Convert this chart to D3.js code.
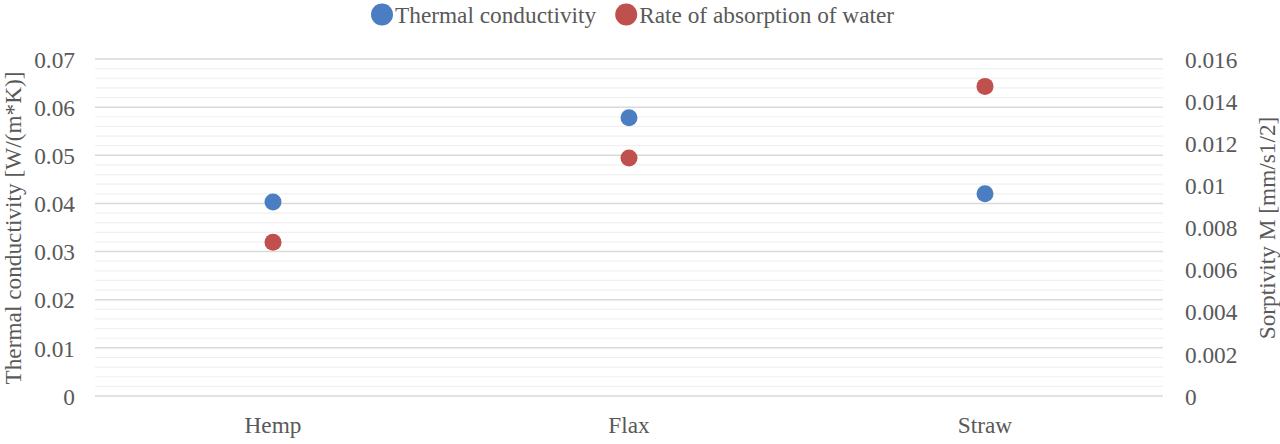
<!DOCTYPE html>
<html><head><meta charset="utf-8">
<script src="https://cdn.jsdelivr.net/npm/d3@7"></script>
<style>body{margin:0;background:#fff}svg{display:block}</style>
</head><body><svg id="c" width="1280" height="444"></svg>
<script>
const categories = ["Hemp", "Flax", "Straw"];
const thermalConductivity = [0.0403, 0.0578, 0.0420];
const absorptionRate = [0.0073, 0.0113, 0.0147];
const leftTicks = [0, 0.01, 0.02, 0.03, 0.04, 0.05, 0.06, 0.07];
const rightTicks = [0, 0.002, 0.004, 0.006, 0.008, 0.01, 0.012, 0.014, 0.016];
const seriesNames = ["Thermal conductivity", "Rate of absorption of water"];
const colors = ["#4A7DC1", "#C0504D"];

const FONT = "'Liberation Serif', 'Times New Roman', serif";
const FS = 23.3;
const TXT = "#595959";

const svg = d3.select("#c");
const m = {l: 95, r: 1163, t: 59, b: 396};
const x = d3.scaleBand().domain(categories).range([m.l, m.r]);
const yL = d3.scaleLinear().domain([0, 0.07]).range([m.b, m.t]);
const yR = d3.scaleLinear().domain([0, 0.016]).range([m.b, m.t]);

const minor = d3.range(0, 0.0701, 0.002).filter(v => Math.abs(v/0.01 - Math.round(v/0.01)) > 1e-6);
svg.append("g").selectAll("line").data(minor).join("line")
  .attr("x1", m.l).attr("x2", m.r).attr("y1", d => yL(d)).attr("y2", d => yL(d))
  .attr("stroke", "#f0f0f0").attr("stroke-width", 1.2);
svg.append("g").selectAll("line").data(leftTicks).join("line")
  .attr("x1", m.l).attr("x2", m.r).attr("y1", d => yL(d)).attr("y2", d => yL(d))
  .attr("stroke", "#d9d9d9").attr("stroke-width", 1.5);

function styleAxis(g) {
  g.select(".domain").remove();
  g.attr("font-family", null).attr("font-size", null);
  g.selectAll("text").style("font-family", FONT).style("font-size", FS + "px").attr("fill", TXT);
}

const gl = svg.append("g").attr("transform", `translate(${m.l - 20},0)`)
  .call(d3.axisLeft(yL).tickValues(leftTicks).tickSize(0).tickPadding(0).tickFormat(d => d3.format("~g")(+d.toFixed(3))));
styleAxis(gl);
gl.selectAll("text").attr("dy", "0.35em");

const gr = svg.append("g").attr("transform", `translate(${m.r + 22},0)`)
  .call(d3.axisRight(yR).tickValues(rightTicks).tickSize(0).tickPadding(0).tickFormat(d => d3.format("~g")(+d.toFixed(4))));
styleAxis(gr);
gr.selectAll("text").attr("dy", "0.35em");

const gx = svg.append("g").attr("transform", `translate(0,${m.b + 20})`)
  .call(d3.axisBottom(x).tickSize(0).tickPadding(0));
styleAxis(gx);
gx.selectAll("text").attr("dy", "0.71em");

svg.append("text").attr("transform", `translate(13,228) rotate(-90)`)
  .attr("text-anchor", "middle").attr("dy", "0.35em").attr("fill", TXT)
  .style("font-family", FONT).style("font-size", FS + "px").text("Thermal conductivity [W/(m*K)]");
svg.append("text").attr("transform", `translate(1267,228) rotate(-90)`)
  .attr("text-anchor", "middle").attr("dy", "0.35em").attr("fill", TXT)
  .style("font-family", FONT).style("font-size", FS + "px").text("Sorptivity M [mm/s1/2]");

svg.append("g").selectAll("circle").data(categories).join("circle")
  .attr("cx", d => x(d) + x.bandwidth()/2).attr("cy", (d, i) => yL(thermalConductivity[i]))
  .attr("r", 8.5).attr("fill", colors[0]);
svg.append("g").selectAll("circle").data(categories).join("circle")
  .attr("cx", d => x(d) + x.bandwidth()/2).attr("cy", (d, i) => yR(absorptionRate[i]))
  .attr("r", 8.5).attr("fill", colors[1]);

const lg = svg.append("g");
let lx = 371;
seriesNames.forEach((n, i) => {
  lg.append("circle").attr("cx", lx + 11).attr("cy", 14.5).attr("r", 11).attr("fill", colors[i]);
  const t = lg.append("text").attr("x", lx + 24).attr("y", 14.5).attr("dy", "0.35em").attr("fill", TXT)
    .style("font-family", FONT).style("font-size", FS + "px").text(n);
  lx = lx + 24 + t.node().getComputedTextLength() + 19;
});
</script></body></html>
